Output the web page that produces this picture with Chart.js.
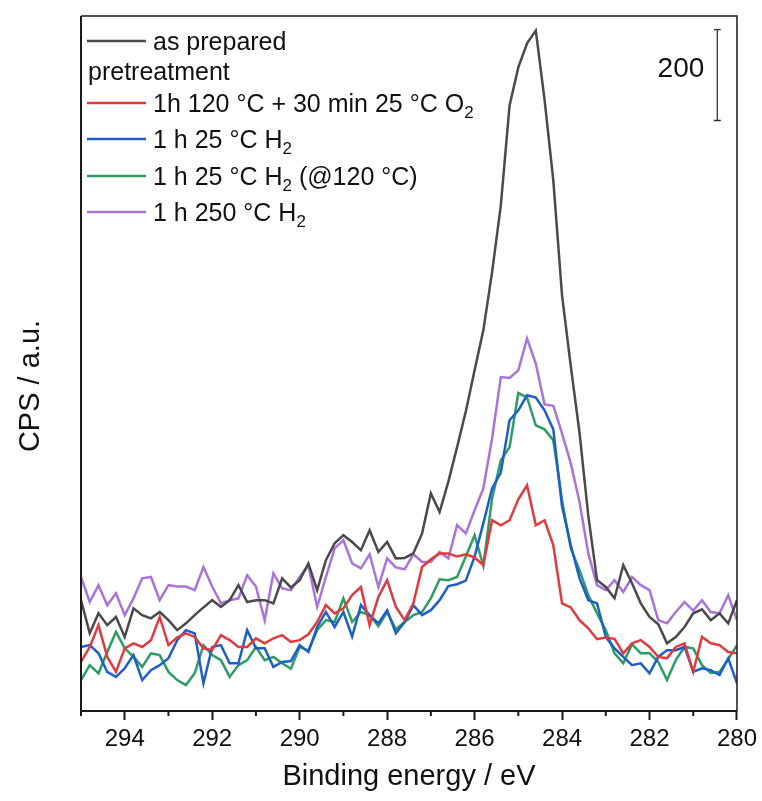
<!DOCTYPE html>
<html>
<head>
<meta charset="utf-8">
<script src="https://cdn.jsdelivr.net/npm/chart.js@4.4.1/dist/chart.umd.min.js"></script>
<style>
  html, body { margin: 0; padding: 0; background: #fff; }
  #wrap { width: 762px; height: 801px; }
</style>
</head>
<body>
<div id="wrap"><canvas id="xps" width="762" height="801"></canvas></div>
<script>
// Energías de enlace (eV), paso de 0.2 eV
const energias = [
  295.0, 294.8, 294.6, 294.4, 294.2, 294.0, 293.8, 293.6, 293.4, 293.2,
  293.0, 292.8, 292.6, 292.4, 292.2, 292.0, 291.8, 291.6, 291.4, 291.2,
  291.0, 290.8, 290.6, 290.4, 290.2, 290.0, 289.8, 289.6, 289.4, 289.2,
  289.0, 288.8, 288.6, 288.4, 288.2, 288.0, 287.8, 287.6, 287.4, 287.2,
  287.0, 286.8, 286.6, 286.4, 286.2, 286.0, 285.8, 285.6, 285.4, 285.2,
  285.0, 284.8, 284.6, 284.4, 284.2, 284.0, 283.8, 283.6, 283.4, 283.2,
  283.0, 282.8, 282.6, 282.4, 282.2, 282.0, 281.8, 281.6, 281.4, 281.2,
  281.0, 280.8, 280.6, 280.4, 280.2, 280.0
];

// Intensidades (CPS, con desplazamiento arbitrario)
const asPrepared = [
  244, 171, 215, 189, 207, 163, 226, 211, 204, 218,
  200, 178, 193, 211, 228, 244, 229, 244, 277, 240,
  244, 244, 237, 292, 272, 288, 325, 266, 332, 369,
  387, 372, 354, 398, 350, 372, 336, 337, 347, 391,
  479, 438, 505, 581, 660, 750, 838, 966, 1113, 1333,
  1417, 1470, 1498, 1346, 1168, 915, 759, 612, 430, 288,
  273, 248, 321, 281, 237, 207, 191, 149, 163, 185,
  215, 224, 200, 215, 193, 244
];
const o2_120 = [
  108, 141, 189, 119, 86, 138, 149, 141, 156, 207,
  145, 162, 171, 163, 138, 134, 167, 156, 141, 141,
  160, 149, 160, 167, 152, 156, 169, 196, 233, 215,
  226, 255, 273, 189, 251, 288, 229, 200, 237, 317,
  334, 347, 347, 340, 345, 338, 321, 420, 409, 420,
  466, 497, 409, 420, 365, 237, 228, 200, 182, 158,
  162, 159, 127, 149, 156, 141, 119, 116, 141, 149,
  86, 163, 149, 145, 130, 127
];
const h2_25 = [
  141, 145, 127, 86, 75, 94, 123, 68, 90, 101,
  116, 156, 178, 171, 61, 141, 145, 105, 105, 178,
  138, 138, 97, 108, 110, 145, 130, 185, 218, 185,
  218, 164, 233, 211, 193, 222, 171, 196, 233, 211,
  222, 244, 275, 279, 287, 340, 413, 490, 525, 640,
  662, 695, 690, 662, 620, 450, 365, 292, 244, 237,
  163, 138, 119, 101, 105, 83, 119, 134, 134, 141,
  86, 94, 90, 79, 116, 61
];
const h2_25_at120 = [
  68, 101, 83, 130, 174, 138, 119, 97, 127, 123,
  86, 68, 57, 83, 145, 123, 112, 75, 101, 112,
  141, 112, 119, 105, 93, 141, 133, 178, 200, 196,
  248, 196, 218, 211, 187, 218, 180, 196, 211, 218,
  248, 290, 288, 295, 340, 387, 320, 468, 552, 581,
  700, 690, 629, 620, 596, 464, 358, 310, 255, 215,
  178, 127, 105, 147, 127, 127, 108, 68, 112, 141,
  138, 101, 84, 86, 114, 145
];
const h2_250 = [
  295, 240, 277, 233, 259, 211, 248, 292, 295, 244,
  277, 274, 274, 266, 317, 274, 237, 244, 248, 299,
  274, 200, 303, 270, 266, 295, 321, 229, 295, 358,
  376, 325, 314, 345, 273, 336, 316, 312, 345, 328,
  328, 350, 336, 409, 391, 442, 490, 600, 735, 733,
  750, 820, 765, 675, 672, 611, 545, 460, 347, 277,
  266, 288, 262, 295, 277, 266, 200, 193, 218, 240,
  221, 244, 218, 215, 255, 200
];

const series = [asPrepared, o2_120, h2_25, h2_25_at120, h2_250];
// "_x" = subíndice
const nombres = ['as prepared', '1h 120 °C + 30 min 25 °C O_2', '1 h 25 °C H_2', '1 h 25 °C H_2 (@120 °C)', '1 h 250 °C H_2'];
const colores = ['#4a4a4a', '#e03a3c', '#1c5fcb', '#2c9c63', '#a873da'];
const tituloGrupo = 'pretreatment';

// Ejes
const ejeX = { min: 280, max: 295 };
const ticksMayores = [294, 292, 290, 288, 286, 284, 282, 280];
const ticksMenores = [295, 293, 291, 289, 287, 285, 283, 281];
const ejeY = { min: 0, max: 1530 };
const tituloX = 'Binding energy / eV';
const tituloY = 'CPS / a.u.';

// Barra de escala (CPS)
const barraEnergia = 280.45;
const barraDesde = 1300;
const barraHasta = 1500;
const barraTexto = '200';

const FUENTE = '"Liberation Sans", Arial, Helvetica, sans-serif';

// Marco, ticks menores, leyenda, barra de escala y título Y
const decoraciones = {
  id: 'decoraciones',
  afterDraw(chart) {
    const { ctx, chartArea: a, scales } = chart;
    const x = scales.x, y = scales.y;
    ctx.save();

    // marco
    ctx.strokeStyle = '#1a1a1a';
    ctx.lineWidth = 1.5;
    ctx.beginPath();
    ctx.moveTo(a.left, a.top); ctx.lineTo(a.right, a.top); ctx.lineTo(a.right, a.bottom);
    ctx.stroke();
    ctx.lineWidth = 2;
    ctx.beginPath();
    ctx.moveTo(a.left, a.top); ctx.lineTo(a.left, a.bottom); ctx.lineTo(a.right, a.bottom);
    ctx.stroke();

    // ticks menores
    ctx.lineWidth = 2;
    ticksMenores.forEach(v => {
      const px = x.getPixelForValue(v);
      ctx.beginPath(); ctx.moveTo(px, a.bottom); ctx.lineTo(px, a.bottom + 5); ctx.stroke();
    });

    // barra de escala
    const bx = x.getPixelForValue(barraEnergia);
    const y1 = y.getPixelForValue(barraDesde), y2 = y.getPixelForValue(barraHasta);
    ctx.strokeStyle = '#333';
    ctx.lineWidth = 1.3;
    ctx.beginPath();
    ctx.moveTo(bx, y1); ctx.lineTo(bx, y2);
    ctx.moveTo(bx - 3.5, y1); ctx.lineTo(bx + 3.5, y1);
    ctx.moveTo(bx - 3.5, y2); ctx.lineTo(bx + 3.5, y2);
    ctx.stroke();
    ctx.fillStyle = '#111';
    ctx.font = '28px ' + FUENTE;
    ctx.textAlign = 'right';
    ctx.textBaseline = 'middle';
    ctx.fillText(barraTexto, bx - 13, (y1 + y2) / 2 - 6);

    // leyenda
    const filas = [41, 103, 139, 176, 212];
    const x0 = a.left + 6, x1 = a.left + 65, xt = a.left + 72;
    ctx.textAlign = 'left';
    ctx.textBaseline = 'alphabetic';
    ctx.font = '25px ' + FUENTE;
    ctx.fillStyle = '#111';
    ctx.fillText(tituloGrupo, a.left + 7, 80);
    series.forEach((s, i) => {
      const fy = filas[i];
      ctx.strokeStyle = colores[i];
      ctx.lineWidth = 2.5;
      ctx.beginPath(); ctx.moveTo(x0, fy); ctx.lineTo(x1, fy); ctx.stroke();
      let cx = xt;
      const partes = nombres[i].split(/_(\S)/);
      partes.forEach((p, j) => {
        if (j % 2 === 1) {
          ctx.font = '17px ' + FUENTE;
          ctx.fillText(p, cx, fy + 15);
          cx += ctx.measureText(p).width;
          ctx.font = '25px ' + FUENTE;
        } else {
          ctx.fillText(p, cx, fy + 9);
          cx += ctx.measureText(p).width;
        }
      });
    });

    // título Y
    ctx.translate(31, 386);
    ctx.rotate(-Math.PI / 2);
    ctx.textAlign = 'center';
    ctx.textBaseline = 'middle';
    ctx.font = '29px ' + FUENTE;
    ctx.fillStyle = '#111';
    ctx.fillText(tituloY, 0, 0);
    ctx.restore();
  }
};

const ctx = document.getElementById('xps').getContext('2d');
new Chart(ctx, {
  type: 'line',
  data: {
    datasets: series.map((s, i) => ({
      label: nombres[i],
      data: s.map((v, k) => ({ x: energias[k], y: v })),
      borderColor: colores[i],
      borderWidth: 2.5,
      pointRadius: 0,
      tension: 0,
      fill: false
    }))
  },
  options: {
    responsive: false,
    animation: false,
    layout: { padding: { left: 0, right: 23, top: 16, bottom: 0 } },
    plugins: { legend: { display: false }, tooltip: { enabled: false } },
    scales: {
      x: {
        type: 'linear',
        reverse: true,
        min: ejeX.min,
        max: ejeX.max,
        afterFit: s => { s.height = 90; },
        afterBuildTicks: s => { s.ticks = ticksMayores.map(v => ({ value: v })); },
        border: { display: false },
        grid: { drawOnChartArea: false, drawTicks: true, tickLength: 9, tickWidth: 2, tickColor: '#1a1a1a' },
        ticks: { autoSkip: false, maxRotation: 0, padding: 5, color: '#111', font: { family: FUENTE, size: 24 } },
        title: { display: true, text: tituloX, color: '#111', font: { family: FUENTE, size: 29 }, padding: { top: 0, bottom: 7 } }
      },
      y: {
        min: ejeY.min,
        max: ejeY.max,
        afterFit: s => { s.width = 81; },
        border: { display: false },
        grid: { display: false },
        ticks: { display: false }
      }
    }
  },
  plugins: [decoraciones]
});
</script>
</body>
</html>
